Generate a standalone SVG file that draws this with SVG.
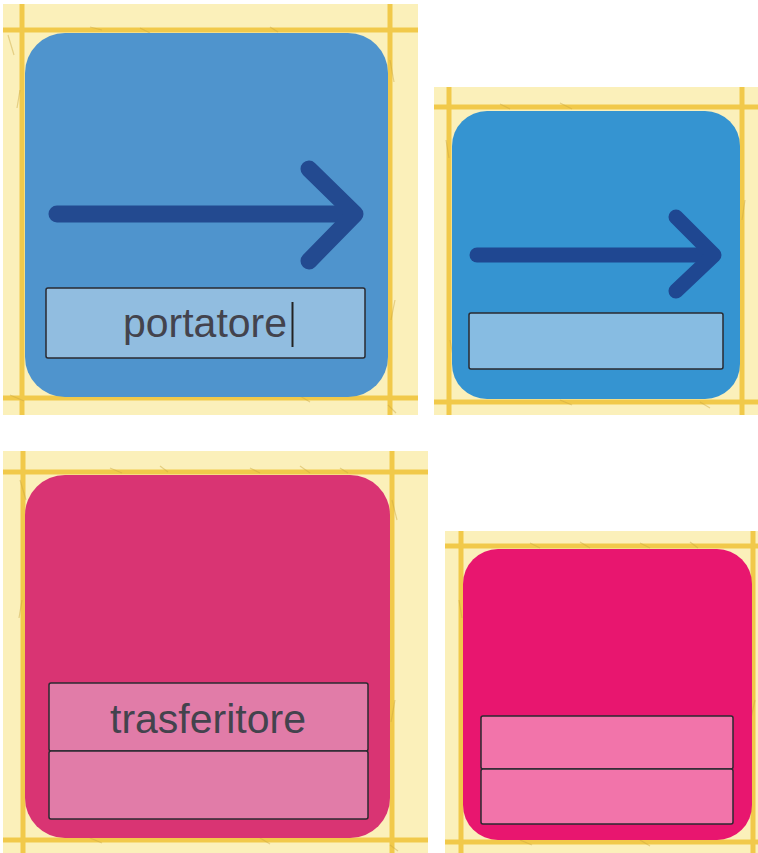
<svg xmlns="http://www.w3.org/2000/svg" width="758" height="853" viewBox="0 0 758 853">
<style>
.bg{fill:#fbf0ba}
.grid{stroke:#f1c94a;stroke-width:5;fill:none}
.tex{stroke:#c9a640;stroke-width:1.2;fill:none;opacity:.45}
.arrow{fill:none;stroke-linecap:round;stroke-linejoin:round}
.field{stroke:#2a2a30;stroke-width:1.5}
.lbl{font-family:"Liberation Sans",Arial,sans-serif;font-size:41px;fill:#43434d;text-anchor:middle}
</style>
<rect width="758" height="853" fill="#ffffff"/>

<g id="tile-portatore">
  <rect class="bg" x="3" y="4" width="415" height="411"/>
  <path class="grid" d="M3 30H418M3 398H418M22 4V415M390 4V415"/>
  <path class="tex" d="M8 35l6 20M20 90l-3 18M390 60l4 22M395 300l-4 20M90 27l12 3M140 28l10 5M270 27l8 5M10 395l14 6M300 396l10 6M388 405l8 8"/>
  <rect x="25" y="33" width="363" height="364" rx="40" fill="#4f94cd"/>
  <g class="arrow" stroke="#234a90" stroke-width="17">
    <line x1="57" y1="214" x2="354" y2="214"/>
    <polyline points="309,169 355,214 309,261"/>
  </g>
  <rect class="field" x="46" y="288" width="319" height="70" rx="2" fill="#91bde0"/>
  <text class="lbl" x="205" y="337">portatore</text>
  <line x1="292.5" y1="302" x2="292.5" y2="347" stroke="#222" stroke-width="2"/>
</g>

<g id="tile-blue-small">
  <rect class="bg" x="434" y="87" width="324" height="328"/>
  <path class="grid" d="M434 107H758M434 402H758M449 87V415M742 87V415"/>
  <path class="tex" d="M500 104l10 5M560 103l12 6M446 140l3 18M745 200l-3 20M450 340l3 16M560 400l12 5M700 402l10 6"/>
  <rect x="452" y="111" width="288" height="288" rx="35" fill="#3594d1"/>
  <g class="arrow" stroke="#1f4791" stroke-width="15">
    <line x1="477" y1="255" x2="713" y2="255"/>
    <polyline points="676,217 714,255 676,291"/>
  </g>
  <rect class="field" x="469" y="313" width="254" height="56" rx="2" fill="#87bce2"/>
</g>

<g id="tile-trasferitore">
  <rect class="bg" x="3" y="451" width="425" height="402"/>
  <path class="grid" d="M3 472H428M3 840H428M23 451V853M392 451V853"/>
  <path class="tex" d="M110 468l12 5M160 466l8 6M250 468l10 5M300 466l10 7M340 468l8 5M20 480l6 20M22 600l-3 18M392 500l5 20M395 700l-4 22M390 845l8 6M90 838l12 5M260 838l10 6"/>
  <rect x="25" y="475" width="365" height="363" rx="40" fill="#d93473"/>
  <rect class="field" x="49" y="683" width="319" height="68" rx="2" fill="#e17ca8"/>
  <rect class="field" x="49" y="751" width="319" height="68" rx="2" fill="#e17ca8"/>
  <text class="lbl" x="208" y="733" font-size="42">trasferitore</text>
</g>

<g id="tile-pink-small">
  <rect class="bg" x="445" y="531" width="313" height="322"/>
  <path class="grid" d="M445 546H758M445 842H758M461 531V853M753 531V853"/>
  <path class="tex" d="M530 543l10 5M580 542l10 6M640 543l10 5M690 542l8 6M459 600l3 18M755 700l-4 18M520 840l12 5M640 840l10 6"/>
  <rect x="463" y="549" width="289" height="291" rx="35" fill="#e8166f"/>
  <rect class="field" x="481" y="716" width="252" height="53" rx="2" fill="#f274aa"/>
  <rect class="field" x="481" y="769" width="252" height="55" rx="2" fill="#f274aa"/>
</g>

<g id="connectors"/>
</svg>
